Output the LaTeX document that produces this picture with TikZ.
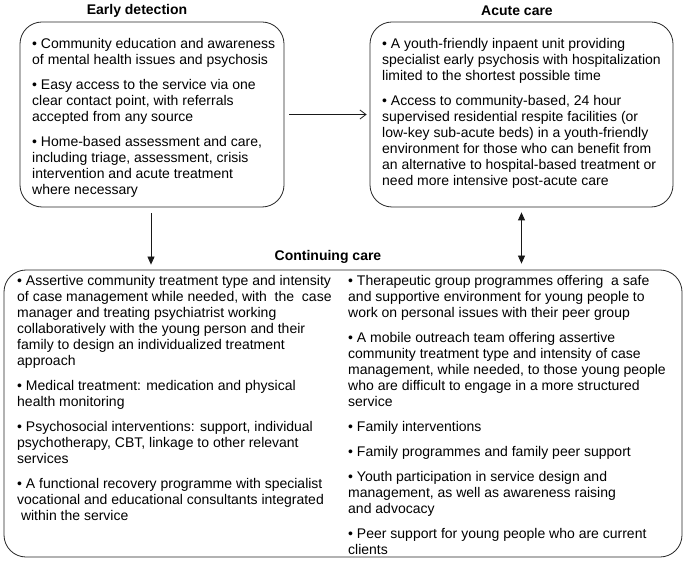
\documentclass[tikz,border=0pt]{standalone}
\usepackage{fontspec}
\setmainfont{Liberation Sans}
\usetikzlibrary{arrows.meta}
\begin{document}
\begin{tikzpicture}[x=1pt,y=-1pt]
\tikzset{
  panel/.style={draw=black!85, line width=0.8pt, rounded corners=22pt, inner sep=0pt},
  txt/.style={font=\fontsize{14}{16}\selectfont, align=left, inner sep=0pt, anchor=north west},
  ttl/.style={font=\fontsize{14}{16}\selectfont\bfseries, inner sep=0pt},
  conn/.style={line width=0.8pt, draw=black!90},
  openarrow/.style={-{Straight Barb[length=6pt,width=9pt,line width=0.8pt]}},
  filledarrow/.style={-{Triangle[length=8pt,width=7pt]}},
  twoarrow/.style={{Triangle[length=8pt,width=7pt]}-{Triangle[length=8pt,width=7pt]}}
}
\useasboundingbox (0,0) rectangle (685,561);
\fill[white] (0,0) rectangle (685,561);

% titles
\node[ttl] (t1) at (137,11) {Early detection};
\node[ttl] (t2) at (517,11) {Acute care};
\node[ttl] (t3) at (328,257) {Continuing care};

% panels
\node[panel, minimum width=264pt, minimum height=185pt] (ed) at (152,114.5) {};
\node[panel, minimum width=303pt, minimum height=185pt] (ac) at (521.5,114.5) {};
\node[panel, minimum width=678pt, minimum height=287pt] (cc) at (343,413.5) {};

% texts
\node[txt] (edtext) at (32,37.8) {%
• Community education and awareness\\
of mental health issues and psychosis\\[9pt]
• Easy access to the service via one\\
clear contact point, with referrals\\
accepted from any source\\[9pt]
• Home-based assessment and care,\\
including triage, assessment, crisis\\
intervention and acute treatment\\
where necessary};

\node[txt] (actext) at (382,37.8) {%
• A youth-friendly inpaent unit providing\\
specialist early psychosis with hospitalization\\
limited to the shortest possible time\\[9pt]
• Access to community-based, 24 hour\\
supervised residential respite facilities (or\\
low-key sub-acute beds) in a youth-friendly\\
environment for those who can benefit from\\
an alternative to hospital-based treatment or\\
need more intensive post-acute care};

\node[txt] (ccleft) at (17,274.8) {%
• Assertive community treatment type and intensity\\
of case management while needed, with~ the~ case\\
manager and treating psychiatrist working\\
collaboratively with the young person and their\\
family to design an individualized treatment\\
approach\\[9pt]
• Medical treatment: medication and physical\\
health monitoring\\[9pt]
• Psychosocial interventions: support, individual\\
psychotherapy, CBT, linkage to other relevant\\
services\\[9pt]
• A functional recovery programme with specialist\\
vocational and educational consultants integrated\\
\hspace*{3.8pt}within the service};

\node[txt] (ccright) at (348,274.8) {%
• Therapeutic group programmes offering~ a safe\\
and supportive environment for young people to\\
work on personal issues with their peer group\\[9pt]
• A mobile outreach team offering assertive\\
community treatment type and intensity of case\\
management, while needed, to those young people\\
who are difficult to engage in a more structured\\
service\\[9pt]
• Family interventions\\[9pt]
• Family programmes and family peer support\\[9pt]
• Youth participation in service design and\\
management, as well as awareness raising\\
and advocacy\\[9pt]
• Peer support for young people who are current\\
clients};

% connectors
\draw[conn, openarrow, shorten <=5pt, shorten >=3pt] (ed) -- (ac);
\draw[conn, filledarrow, shorten <=6pt, shorten >=5pt] ([xshift=-1pt]ed.south) -- ([xshift=-1pt]ed.south |- cc.north);
\draw[conn, twoarrow, shorten <=5pt, shorten >=6pt] (ac.south) -- (ac.south |- cc.north);
\end{tikzpicture}
\end{document}
